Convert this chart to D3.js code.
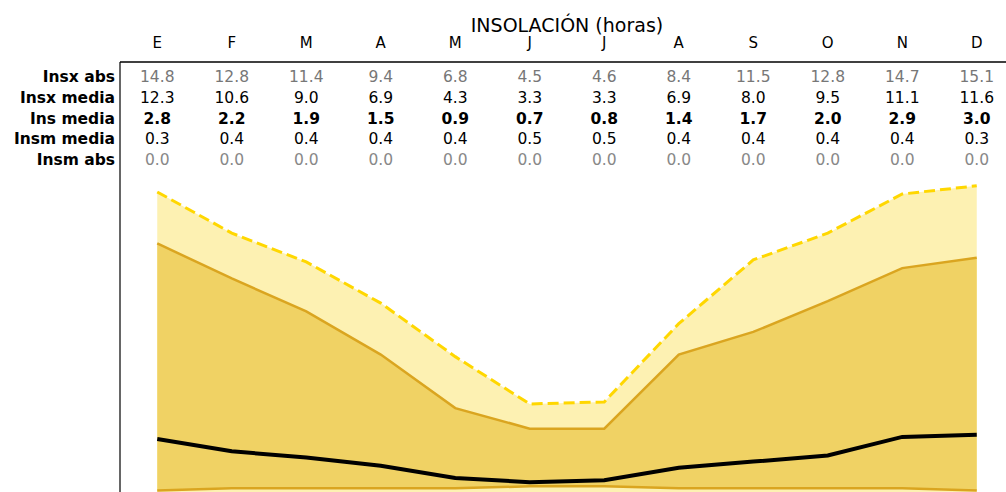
<!DOCTYPE html>
<html lang="es">
<head>
    <meta charset="UTF-8">
    <title>Insolación</title>
    <script src="https://cdnjs.cloudflare.com/ajax/libs/d3/7.8.5/d3.min.js"></script>
    <style type="text/css">
        body { margin: 0; background: #fff; }
        text { font-family: "DejaVu Sans", sans-serif; }
    </style>
</head>
<body>
<svg width="1006" height="492"></svg>
<script>
    var MONTHS = ["E", "F", "M", "A", "M", "J", "J", "A", "S", "O", "N", "D"];
    var INSX_ABS = [14.8, 12.8, 11.4, 9.4, 6.8, 4.5, 4.6, 8.4, 11.5, 12.8, 14.7, 15.1];
    var INSX_MEDIA = [12.3, 10.6, 9.0, 6.9, 4.3, 3.3, 3.3, 6.9, 8.0, 9.5, 11.1, 11.6];
    var INS_MEDIA = [2.8, 2.2, 1.9, 1.5, 0.9, 0.7, 0.8, 1.4, 1.7, 2.0, 2.9, 3.0];
    var INSM_MEDIA = [0.3, 0.4, 0.4, 0.4, 0.4, 0.5, 0.5, 0.4, 0.4, 0.4, 0.4, 0.3];
    var INSM_ABS = [0.0, 0.0, 0.0, 0.0, 0.0, 0.0, 0.0, 0.0, 0.0, 0.0, 0.0, 0.0];
    var ROW_LABELS = ["Insx abs", "Insx media", "Ins media", "Insm media", "Insm abs"];
    var TITLE = "INSOLACIÓN (horas)";

    var svg = d3.select("svg");
    var plotLeft = 120, plotTop = 62, plotBottom = 492;

    // x: indices -0.5 .. 11.5 over the axes width
    var x = d3.scaleLinear().domain([-0.5, 11.5]).range([plotLeft, 1014]);
    var y = d3.scaleLinear().domain([0, 15.1]).range([496.6, 185.8]);

    var idx = d3.range(MONTHS.length);

    svg.append("defs").append("clipPath").attr("id", "clip")
        .append("rect").attr("x", plotLeft).attr("y", plotTop)
        .attr("width", 1006 - plotLeft).attr("height", plotBottom - plotTop);

    var plot = svg.append("g").attr("clip-path", "url(#clip)");

    // light band between the absolute values
    var areaOuter = d3.area()
        .x(function(i) { return x(i); })
        .y0(function(i) { return y(INSM_ABS[i]); })
        .y1(function(i) { return y(INSX_ABS[i]); });
    plot.append("path").datum(idx).attr("d", areaOuter).attr("fill", "#fdf1b2");

    // darker band between the mean values
    var areaInner = d3.area()
        .x(function(i) { return x(i); })
        .y0(function(i) { return y(INSM_MEDIA[i]); })
        .y1(function(i) { return y(INSX_MEDIA[i]); });
    plot.append("path").datum(idx).attr("d", areaInner).attr("fill", "#f0d264");

    function lineOf(arr) {
        return d3.line().x(function(i) { return x(i); }).y(function(i) { return y(arr[i]); })(idx);
    }

    plot.append("path").attr("d", lineOf(INSM_ABS)).attr("fill", "none")
        .attr("stroke", "#ffd700").attr("stroke-width", 3).attr("stroke-dasharray", "11,5");
    plot.append("path").attr("d", lineOf(INSM_MEDIA)).attr("fill", "none")
        .attr("stroke", "#daa520").attr("stroke-width", 2.5);
    plot.append("path").attr("d", lineOf(INSX_ABS)).attr("fill", "none")
        .attr("stroke", "#ffd700").attr("stroke-width", 3).attr("stroke-dasharray", "11,5");
    plot.append("path").attr("d", lineOf(INSX_MEDIA)).attr("fill", "none")
        .attr("stroke", "#daa520").attr("stroke-width", 2.5);
    plot.append("path").attr("d", lineOf(INS_MEDIA)).attr("fill", "none")
        .attr("stroke", "#000").attr("stroke-width", 4);

    // spines: left and top
    svg.append("line").attr("x1", plotLeft).attr("x2", plotLeft).attr("y1", plotTop).attr("y2", plotBottom)
        .attr("stroke", "#333").attr("stroke-width", 1.5);
    svg.append("line").attr("x1", plotLeft).attr("x2", 1006).attr("y1", plotTop).attr("y2", plotTop)
        .attr("stroke", "#000").attr("stroke-width", 1.5);

    // title
    svg.append("text").attr("x", (plotLeft + 1014) / 2).attr("y", 25)
        .attr("text-anchor", "middle").attr("dominant-baseline", "central")
        .attr("font-size", 19).attr("fill", "#000").text(TITLE);

    // month headers
    svg.append("g").selectAll("text").data(idx).enter().append("text")
        .attr("x", function(i) { return x(i); }).attr("y", 43)
        .attr("text-anchor", "middle").attr("dominant-baseline", "central")
        .attr("font-size", 15).text(function(i) { return MONTHS[i]; });

    // table rows
    var rows = [
        {label: ROW_LABELS[0], values: INSX_ABS, color: "#777", weight: "normal"},
        {label: ROW_LABELS[1], values: INSX_MEDIA, color: "#000", weight: "normal"},
        {label: ROW_LABELS[2], values: INS_MEDIA, color: "#000", weight: "bold"},
        {label: ROW_LABELS[3], values: INSM_MEDIA, color: "#000", weight: "normal"},
        {label: ROW_LABELS[4], values: INSM_ABS, color: "#888", weight: "normal"}
    ];
    var rowY = d3.scalePoint().domain(d3.range(rows.length)).range([77, 160]);

    var rowG = svg.append("g").selectAll("g").data(rows).enter().append("g")
        .attr("transform", function(d, r) { return "translate(0," + rowY(r) + ")"; });

    rowG.append("text").attr("x", 115).attr("text-anchor", "end")
        .attr("dominant-baseline", "central").attr("font-size", 15.5)
        .attr("font-weight", "bold").text(function(d) { return d.label; });

    rowG.selectAll("text.val").data(function(d) {
            return d.values.map(function(v, i) { return {v: v, i: i, color: d.color, weight: d.weight}; });
        })
        .enter().append("text").attr("class", "val")
        .attr("x", function(d) { return x(d.i); })
        .attr("text-anchor", "middle").attr("dominant-baseline", "central")
        .attr("font-size", 15.5)
        .attr("fill", function(d) { return d.color; })
        .attr("font-weight", function(d) { return d.weight; })
        .text(function(d) { return d.v.toFixed(1); });
</script>
</body>
</html>
